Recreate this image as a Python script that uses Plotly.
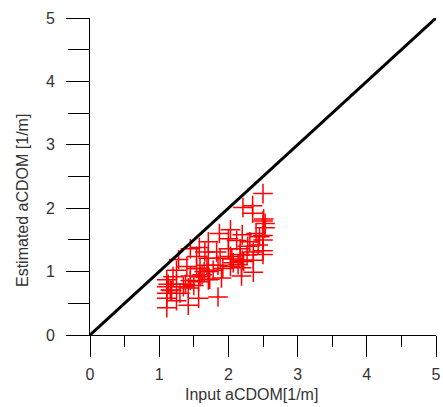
import plotly.graph_objects as go

# Input aCDOM (x) and Estimated aCDOM (y)
input_acdom = [
    2.50, 2.21, 2.35, 2.35, 2.50, 2.51, 2.03, 1.87, 2.20, 2.40,
    2.50, 2.50, 2.00, 1.71, 1.45, 1.58, 1.28, 2.17, 2.36, 2.50,
    1.83, 1.88, 2.03, 2.20, 2.22, 2.14, 2.19, 2.36, 1.69, 1.59,
    1.71, 1.90, 1.85, 2.19, 1.45, 1.57, 1.11, 1.11, 1.11, 1.11,
    1.11, 1.25, 1.25, 1.25, 1.42, 1.40, 1.42, 1.57, 1.54, 1.45,
    1.71, 1.66, 1.85, 2.03, 2.00, 2.12, 2.31, 2.43, 2.50, 2.27,
    2.36, 1.71, 1.20, 1.35, 1.30, 1.16, 1.59, 1.73, 2.17, 2.07,
    1.92, 2.53, 2.53, 1.54, 1.13, 1.18, 1.38, 1.62, 1.78, 2.05,
    2.28, 2.45, 1.65, 1.50,
]
estimated_acdom = [
    2.23, 2.01, 2.04, 1.92, 1.80, 1.83, 1.66, 1.60, 1.58, 1.60,
    1.57, 1.50, 1.52, 1.47, 1.36, 1.38, 1.19, 1.36, 1.31, 1.27,
    1.31, 1.21, 1.24, 1.18, 1.16, 1.11, 1.06, 0.99, 1.10, 1.05,
    1.00, 0.90, 0.60, 0.93, 0.86, 0.84, 0.87, 0.76, 0.66, 0.58,
    0.43, 1.02, 0.80, 0.54, 0.47, 1.08, 0.74, 0.58, 1.24, 0.93,
    1.21, 1.31, 1.10, 1.08, 1.36, 1.49, 1.47, 1.42, 1.33, 1.26,
    1.18, 0.87, 0.92, 0.76, 0.66, 0.71, 0.92, 0.88, 1.27, 1.14,
    1.05, 1.69, 1.76, 1.05, 0.80, 0.70, 0.80, 0.95, 1.02, 1.20,
    1.40, 1.55, 1.00, 0.78,
]

# 1:1 reference line
line_x = [0, 5]
line_y = [0, 5]

tick_vals = [0, 1, 2, 3, 4, 5]
tick_text = ["0", "1", "2", "3", "4", "5"]

font_family = "Liberation Sans, Arial, sans-serif"

fig = go.Figure()
fig.add_trace(go.Scatter(
    x=input_acdom, y=estimated_acdom, mode="markers",
    marker=dict(symbol="cross-thin", size=14, color="red",
                line=dict(color="red", width=1.5)),
    showlegend=False, hoverinfo="skip",
))
fig.add_trace(go.Scatter(
    x=line_x, y=line_y, mode="lines",
    line=dict(color="black", width=3),
    showlegend=False, hoverinfo="skip",
))

axis_common = dict(
    range=[0, 5], showgrid=False, zeroline=False,
    showline=True, linecolor="black", linewidth=1,
    ticks="outside", tickcolor="black", tickwidth=1,
    tickvals=tick_vals, ticktext=tick_text,
    tickfont=dict(family=font_family, size=16, color="#333"),
    automargin=False,
)

fig.update_xaxes(**axis_common, ticklen=21,
                 minor=dict(dtick=0.5, tick0=0, ticks="outside", ticklen=11,
                            tickcolor="black", tickwidth=1),
                 ticklabelstandoff=4)
fig.update_yaxes(**axis_common, ticklen=23,
                 minor=dict(dtick=0.5, tick0=0, ticks="outside", ticklen=21,
                            tickcolor="black", tickwidth=1),
                 ticklabelstandoff=8)

fig.add_annotation(text="Input aCDOM[1/m]", xref="paper", yref="paper",
                   x=(251 - 90) / 346, y=-(394 - 335) / 317,
                   showarrow=False, xanchor="center", yanchor="middle",
                   font=dict(family=font_family, size=16, color="#333"))
fig.add_annotation(text="Estimated aCDOM [1/m]", xref="paper", yref="paper",
                   x=-(90 - 22) / 346, y=(335 - 201) / 317,
                   showarrow=False, textangle=-90, xanchor="center", yanchor="middle",
                   font=dict(family=font_family, size=16, color="#333"))

fig.update_layout(
    width=443, height=407,
    margin=dict(l=90, r=7, t=18, b=72),
    paper_bgcolor="white", plot_bgcolor="white",
)

# remove the default page margin so the figure fills the window exactly
fig.write_html(
    "out.html",
    config={"displayModeBar": False},
    post_script="document.body.style.margin='0';document.body.style.overflow='hidden';",
)
